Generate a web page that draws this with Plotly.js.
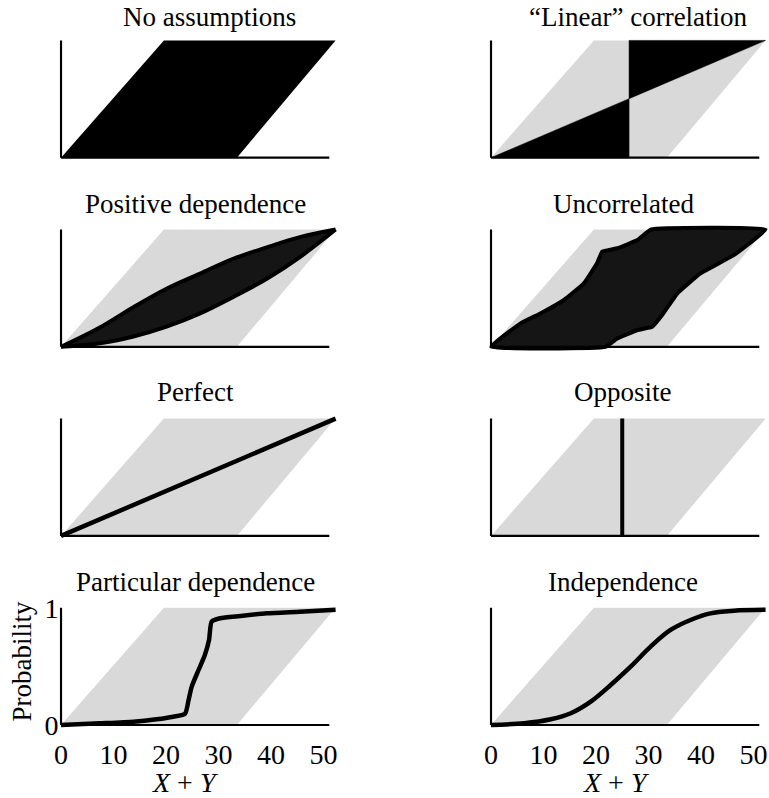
<!DOCTYPE html>
<html>
<head>
<meta charset="utf-8">
<script src="https://cdn.plot.ly/plotly-3.0.1.min.js"></script>
<style>html,body{margin:0;padding:0;background:#fff;}#chart{width:769px;height:798px;}</style>
</head>
<body>
<div id="chart"></div>
<script>
// ---------------- data ----------------
const titles = ["No assumptions", "\u201cLinear\u201d correlation", "Positive dependence", "Uncorrelated",
                "Perfect", "Opposite", "Particular dependence", "Independence"];
const xTickVals = [0, 10, 20, 30, 40, 50];
const yTickVals = [0, 1];
const yTickText = ["0", "1"];

// bounds on the distribution of X + Y (parallelogram)
const boundX = [0, 19.6, 52.3, 33.5, 0];
const boundY = [0, 1, 1, 0, 0];

// "Linear" correlation wedges
const linLowX = [0, 26.3, 26.3, 0];
const linLowY = [0, 0, 0.503, 0];
const linUpX = [26.3, 26.3, 52.3, 26.3];
const linUpY = [0.503, 1, 1, 0.503];

// Positive dependence lens
const posUpX = [0, 7.4, 13.8, 20.1, 26.5, 32.8, 39.2, 45.5, 52.3];
const posUpY = [0, 0.165, 0.338, 0.495, 0.625, 0.75, 0.848, 0.935, 1];
const posLowX = [0, 7.4, 13.8, 20.1, 26.5, 32.8, 39.2, 45.5, 52.3];
const posLowY = [0, 0.03, 0.088, 0.172, 0.285, 0.425, 0.58, 0.765, 1];

// Uncorrelated region
const uncX = [0, 5.65, 9.5, 13.9, 17.7, 20.2, 21.2, 24.1, 27.9, 30.5, 52.3,
              46.3, 39.9, 35.5, 32.6, 30.7, 27.9, 24.1, 21.8, 0];
const uncY = [0, 0.2, 0.286, 0.399, 0.541, 0.712, 0.811, 0.84, 0.91, 1, 1,
              0.783, 0.627, 0.456, 0.271, 0.171, 0.143, 0.072, 0, 0];

// Perfect
const perfX = [0, 52.3];
const perfY = [0, 1];

// Opposite
const oppX = [25, 25];
const oppY = [0, 1];

// Particular dependence
const partX = [0, 7.4, 13.8, 18.2, 21.4, 23.6, 24.3, 24.9, 26.2, 27.4, 28.2, 28.7, 30.3, 34.1, 39.2, 45.5, 52.3];
const partY = [0, 0.014, 0.028, 0.049, 0.071, 0.094, 0.213, 0.327, 0.469, 0.597, 0.725, 0.881, 0.91, 0.929, 0.952, 0.966, 0.983];

// Independence
const indX = [0, 6.3, 11.4, 15.2, 19.0, 22.8, 26.6, 30.4, 34.2, 38.0, 41.8, 46.3, 52.3];
const indY = [0, 0.015, 0.049, 0.1, 0.199, 0.341, 0.497, 0.668, 0.81, 0.895, 0.952, 0.974, 0.982];

const axisEnd = 51.1;

// ---------------- layout geometry ----------------
const W = 769, H = 798;
const FONT = "Liberation Serif";
const GRAY = "#d9d9d9";
const DARK = "#151515";
const xr = [-0.3, 52.9];
const yr = [-0.05, 1.05];
const scale = 5.25;
const x0px = [61, 491];
const ph = 117.3;
function y0px(r) { return 157.7 + 189.1 * r; }

const data = [];
const layout = {
  width: W, height: H,
  margin: {l: 0, r: 0, t: 0, b: 0},
  paper_bgcolor: "#fff", plot_bgcolor: "rgba(0,0,0,0)",
  showlegend: false,
  font: {family: FONT, color: "#000", size: 27},
  shapes: [], annotations: []
};

function ax(i) { return i === 1 ? "" : String(i); }

for (let i = 1; i <= 8; i++) {
  const r = Math.floor((i - 1) / 2), c = (i - 1) % 2;
  const xd = [(x0px[c] + xr[0] * scale) / W, (x0px[c] + xr[1] * scale) / W];
  const top = y0px(r) - yr[1] * ph, bot = y0px(r) - yr[0] * ph;
  const yd = [1 - bot / H, 1 - top / H];
  const bottomRow = r === 3;
  layout["xaxis" + ax(i)] = {
    domain: xd, range: xr, anchor: "y" + ax(i),
    showgrid: false, zeroline: false, showline: false, ticks: "",
    showticklabels: bottomRow, tickvals: xTickVals, ticklabelstandoff: 4,
    tickfont: {family: FONT, size: 28, color: "#000"},
    fixedrange: true
  };
  layout["yaxis" + ax(i)] = {
    domain: yd, range: yr, anchor: "x" + ax(i),
    showgrid: false, zeroline: false, showline: false, ticks: "",
    showticklabels: (bottomRow && c === 0), tickvals: yTickVals, ticktext: yTickText,
    tickfont: {family: FONT, size: 28, color: "#000"},
    fixedrange: true
  };
  // axis lines
  layout.shapes.push({type: "line", xref: "x" + ax(i), yref: "y" + ax(i), x0: 0, x1: axisEnd, y0: 0, y1: 0,
                      line: {color: "#000", width: 2.2}, layer: "above"});
  layout.shapes.push({type: "line", xref: "x" + ax(i), yref: "y" + ax(i), x0: 0, x1: 0, y0: 0, y1: 1,
                      line: {color: "#000", width: 2.2}, layer: "above"});
  // bounds parallelogram
  data.push({type: "scatter", mode: "lines", x: boundX, y: boundY, xaxis: "x" + ax(i), yaxis: "y" + ax(i),
             fill: "toself", fillcolor: i === 1 ? "#000" : GRAY, line: {width: 0, color: i === 1 ? "#000" : GRAY},
             hoverinfo: "skip"});
}

function tr(i, obj) { obj.xaxis = "x" + ax(i); obj.yaxis = "y" + ax(i); obj.type = "scatter"; obj.hoverinfo = "skip"; data.push(obj); }

// 2: linear correlation
tr(2, {mode: "lines", x: linLowX, y: linLowY, fill: "toself", fillcolor: "#000", line: {width: 0.5, color: "#000"}});
tr(2, {mode: "lines", x: linUpX, y: linUpY, fill: "toself", fillcolor: "#000", line: {width: 0.5, color: "#000"}});
// 3: positive dependence
tr(3, {mode: "lines", x: posLowX, y: posLowY, line: {width: 4, color: "#000", shape: "spline"}});
tr(3, {mode: "lines", x: posUpX, y: posUpY, fill: "tonexty", fillcolor: DARK, line: {width: 4, color: "#000", shape: "spline"}});
// 4: uncorrelated
tr(4, {mode: "lines", x: uncX, y: uncY, fill: "toself", fillcolor: DARK, line: {width: 4, color: "#000", shape: "spline", smoothing: 0.3}});
// 5: perfect
tr(5, {mode: "lines", x: perfX, y: perfY, line: {width: 4.5, color: "#000"}});
// 6: opposite
tr(6, {mode: "lines", x: oppX, y: oppY, line: {width: 4, color: "#000"}});
// 7: particular dependence
tr(7, {mode: "lines", x: partX, y: partY, line: {width: 4.5, color: "#000", shape: "spline", smoothing: 0.6}});
// 8: independence
tr(8, {mode: "lines", x: indX, y: indY, line: {width: 4.5, color: "#000", shape: "spline"}});

// titles
const titleCx = [209, 638, 195, 623, 195, 623, 195, 623];
const titleBase = [27, 214, 402, 592];
for (let i = 0; i < 8; i++) {
  const r = Math.floor(i / 2);
  layout.annotations.push({text: titles[i], xref: "paper", yref: "paper",
    x: titleCx[i] / W, y: 1 - (titleBase[r] + 7) / H, xanchor: "center", yanchor: "bottom",
    showarrow: false, font: {family: FONT, size: 27, color: "#000"}});
}
// axis titles
[185, 616].forEach(function (cx) {
  layout.annotations.push({text: "<i>X</i> + <i>Y</i>", xref: "paper", yref: "paper",
    x: cx / W, y: 1 - 800 / H, xanchor: "center", yanchor: "bottom",
    showarrow: false, font: {family: FONT, size: 28, color: "#000"}});
});
layout.annotations.push({text: "Probability", xref: "paper", yref: "paper", textangle: -90,
  x: 21.5 / W, y: 1 - 662 / H, xanchor: "center", yanchor: "middle",
  showarrow: false, font: {family: FONT, size: 27, color: "#000"}});

Plotly.newPlot("chart", data, layout, {displayModeBar: false, staticPlot: true});
</script>
</body>
</html>
